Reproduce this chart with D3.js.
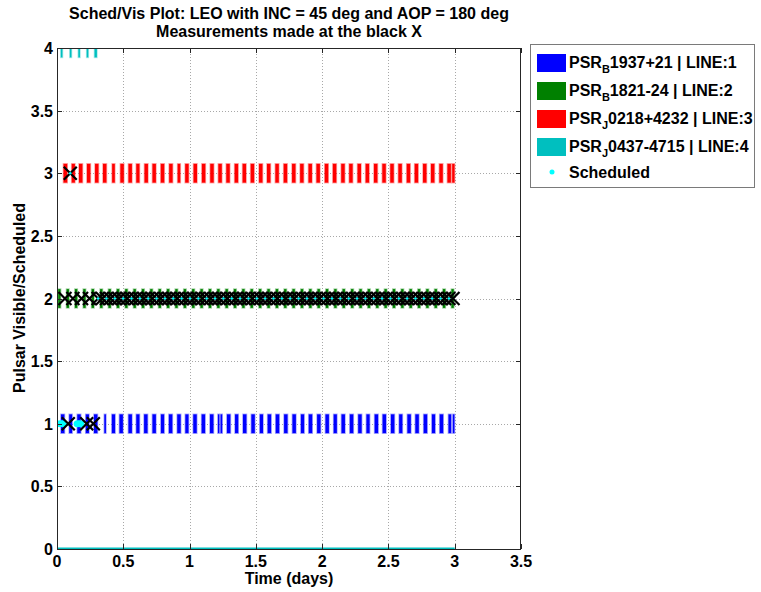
<!DOCTYPE html>
<html><head><meta charset="utf-8">
<script src="https://cdn.jsdelivr.net/npm/d3@7"></script>
<style>body{margin:0;background:#fff}svg{display:block}text{font-family:"Liberation Sans",Arial,sans-serif;font-weight:bold}</style>
</head><body><svg id="c" width="761" height="592"></svg>
<script>
// ---- data ----
const titleLines = ["Sched/Vis Plot: LEO with INC = 45 deg and AOP = 180 deg", "Measurements made at the black X"];
const xTicks = [0, 0.5, 1, 1.5, 2, 2.5, 3, 3.5];
const yTicks = [0, 0.5, 1, 1.5, 2, 2.5, 3, 3.5, 4];
const pulsarNames = [["PSR","B","1937+21 | LINE:1"],["PSR","B","1821-24 | LINE:2"],["PSR","J","0218+4232 | LINE:3"],["PSR","J","0437-4715 | LINE:4"]];
const pulsarColors = ["#0000ff", "#008000", "#ff0000", "#00bfbf"];
// visibility windows: centre time (days) and duration (days)
const line1Centers = [0.043,0.103,0.166,0.229,0.292,0.363,0.426,0.484,0.552,0.610,0.670,0.733,0.796,0.857,0.920,0.980,1.041,1.104,1.167,1.219,1.240,1.295,1.355,1.416,1.479,1.542,1.602,1.663,1.726,1.789,1.852,1.912,1.975,2.038,2.099,2.159,2.222,2.285,2.346,2.409,2.469,2.532,2.593,2.656,2.716,2.779,2.840,2.900,2.963,2.992];
const line1Durations = [0.026,0.022,0.026,0.024,0.026,0.012,0.024,0.026,0.026,0.024,0.026,0.026,0.024,0.026,0.026,0.024,0.026,0.026,0.026,0.010,0.012,0.026,0.024,0.026,0.026,0.024,0.026,0.026,0.026,0.026,0.024,0.026,0.026,0.026,0.024,0.026,0.026,0.026,0.024,0.026,0.026,0.026,0.024,0.026,0.026,0.026,0.024,0.026,0.020,0.012];
const line2Centers = [0.018,0.081,0.144,0.207,0.270,0.334,0.397,0.460,0.523,0.586,0.649,0.712,0.775,0.838,0.901,0.965,1.028,1.091,1.154,1.217,1.280,1.343,1.406,1.469,1.532,1.596,1.659,1.722,1.785,1.848,1.911,1.974,2.037,2.100,2.163,2.227,2.290,2.353,2.416,2.479,2.542,2.605,2.668,2.731,2.794,2.857,2.920,2.984];
const line2Durations = [0.018,0.018,0.018,0.018,0.018,0.018,0.018,0.018,0.018,0.018,0.018,0.018,0.018,0.018,0.018,0.018,0.018,0.018,0.018,0.018,0.018,0.018,0.018,0.018,0.018,0.018,0.018,0.018,0.018,0.018,0.018,0.018,0.018,0.018,0.018,0.018,0.018,0.018,0.018,0.018,0.018,0.018,0.018,0.018,0.018,0.018,0.018,0.018];
const line3Centers = [0.063,0.123,0.179,0.239,0.300,0.360,0.426,0.491,0.552,0.610,0.673,0.733,0.796,0.859,0.920,0.980,1.043,1.106,1.169,1.230,1.290,1.353,1.413,1.474,1.537,1.597,1.660,1.723,1.786,1.847,1.910,1.970,2.033,2.094,2.157,2.217,2.280,2.341,2.404,2.467,2.527,2.588,2.651,2.711,2.774,2.834,2.897,2.958,2.990];
const line3Durations = [0.028,0.024,0.026,0.026,0.026,0.026,0.020,0.026,0.026,0.024,0.026,0.026,0.026,0.026,0.020,0.026,0.026,0.026,0.026,0.026,0.026,0.026,0.026,0.026,0.026,0.026,0.026,0.026,0.026,0.026,0.026,0.026,0.026,0.026,0.026,0.026,0.026,0.026,0.026,0.026,0.026,0.026,0.026,0.026,0.026,0.026,0.026,0.026,0.018];
const line4Centers = [0.035,0.103,0.167,0.230,0.292];
const line4Durations = [0.012,0.012,0.012,0.012,0.018];
const line4ZeroSpan = [0, 3];
// scheduled observations (cyan dots) and measurements (black X)
const sched1 = [0.025,0.045,0.155,0.175];
const meas1 = [0.085,0.224,0.274];
const sched2 = [0.31,0.373,0.436,0.499,0.562,0.625,0.688,0.751,0.814,0.877,0.940,1.003,1.066,1.129,1.192,1.255,1.318,1.381,1.444,1.507,1.570,1.633,1.696,1.759,1.822,1.885,1.948,2.011,2.074,2.137,2.200,2.263,2.326,2.389,2.452,2.515,2.578,2.641,2.704,2.767,2.830,2.893,2.956];
const meas2 = [0.060,0.120,0.185,0.245,0.310,0.341,0.373,0.404,0.436,0.467,0.499,0.530,0.562,0.593,0.625,0.656,0.688,0.719,0.751,0.782,0.814,0.845,0.877,0.908,0.940,0.971,1.003,1.034,1.066,1.097,1.129,1.160,1.192,1.223,1.255,1.286,1.318,1.349,1.381,1.412,1.444,1.475,1.507,1.538,1.570,1.601,1.633,1.664,1.696,1.727,1.759,1.790,1.822,1.853,1.885,1.916,1.948,1.979,2.011,2.042,2.074,2.105,2.137,2.168,2.200,2.231,2.263,2.294,2.326,2.357,2.389,2.420,2.452,2.483,2.515,2.546,2.578,2.609,2.641,2.672,2.704,2.735,2.767,2.798,2.830,2.861,2.893,2.924,2.956,2.987];
const sched3 = [0.100];
const meas3 = [0.100];

// ---- drawing ----
const svg = d3.select("#c");
const x = d3.scaleLinear().domain([0, 3.5]).range([57, 521]);
const y = d3.scaleLinear().domain([0, 4]).range([549, 48]);
const barHalf = 0.075;
const FS = 16;

svg.append("defs").append("clipPath").attr("id","clip").append("rect")
  .attr("x", 57).attr("y", 48).attr("width", 521-57).attr("height", 549-48);

// grid
const grid = svg.append("g").attr("stroke", "#a8a8a8").attr("stroke-width", 1).attr("stroke-dasharray", "1,2");
grid.selectAll(".gx").data(xTicks.slice(1, -1)).join("line")
  .attr("x1", d => Math.round(x(d)) + 0.5).attr("x2", d => Math.round(x(d)) + 0.5)
  .attr("y1", y(4)).attr("y2", y(0));
grid.selectAll(".gy").data(yTicks.slice(1, -1)).join("line")
  .attr("y1", d => Math.round(y(d)) + 0.5).attr("y2", d => Math.round(y(d)) + 0.5)
  .attr("x1", x(0)).attr("x2", x(3.5));

const plot = svg.append("g").attr("clip-path", "url(#clip)");

// zero-level line of the last series
plot.append("line").attr("x1", x(line4ZeroSpan[0])).attr("x2", x(line4ZeroSpan[1]))
  .attr("y1", y(0)).attr("y2", y(0)).attr("stroke", pulsarColors[3]).attr("stroke-width", 3);

function bars(centers, durations, level, color) {
  const g = plot.append("g");
  g.selectAll("rect").data(centers).join("rect")
    .attr("x", (d, i) => x(d - durations[i] / 2))
    .attr("width", (d, i) => Math.max(1, x(d + durations[i] / 2) - x(d - durations[i] / 2)))
    .attr("y", y(level + barHalf))
    .attr("height", y(level - barHalf) - y(level + barHalf))
    .attr("fill", color)
    .attr("stroke", color).attr("stroke-opacity", 0.35).attr("stroke-width", 1.6);
}
bars(line1Centers, line1Durations, 1, pulsarColors[0]);
bars(line2Centers, line2Durations, 2, pulsarColors[1]);
bars(line3Centers, line3Durations, 3, pulsarColors[2]);
bars(line4Centers, line4Durations, 4, pulsarColors[3]);

function crosses(times, level) {
  const s = 6.5;
  plot.append("g").selectAll("path").data(times).join("path")
    .attr("d", d => { const cx = x(d), cy = y(level);
      return `M${cx - s},${cy - s}L${cx + s},${cy + s}M${cx - s},${cy + s}L${cx + s},${cy - s}`; })
    .attr("stroke", "#000").attr("stroke-width", 2.2).attr("fill", "none");
}
function dots(times, level, rx, ry) {
  plot.append("g").selectAll("ellipse").data(times).join("ellipse")
    .attr("cx", d => x(d)).attr("cy", y(level)).attr("rx", rx).attr("ry", ry)
    .attr("fill", "#00ffff");
}
dots(sched1, 1, 4, 3.5);
crosses(meas1, 1);
crosses(meas2, 2);
dots(sched2, 2, 1.3, 1.3);
crosses(meas3, 3);
dots(sched3, 3, 1.3, 1.3);

// axes box
svg.append("rect").attr("x", 57.5).attr("y", 48.5).attr("width", 521-57-1).attr("height", 549-48)
  .attr("fill", "none").attr("stroke", "#262626").attr("stroke-width", 1);
const tk = svg.append("g").attr("stroke", "#262626");
xTicks.forEach(t => {
  const px = Math.round(x(t)) + 0.5;
  tk.append("line").attr("x1", px).attr("x2", px).attr("y1", 549).attr("y2", 544);
  tk.append("line").attr("x1", px).attr("x2", px).attr("y1", 48).attr("y2", 53);
});
yTicks.forEach(t => {
  const py = Math.round(y(t)) + 0.5;
  tk.append("line").attr("x1", 57).attr("x2", 62).attr("y1", py).attr("y2", py);
  tk.append("line").attr("x1", 521).attr("x2", 516).attr("y1", py).attr("y2", py);
});

// tick labels
svg.append("g").selectAll("text").data(xTicks).join("text")
  .attr("x", d => x(d)).attr("y", 567).attr("text-anchor", "middle")
  .attr("font-size", FS).text(d => d);
svg.append("g").selectAll("text").data(yTicks).join("text")
  .attr("x", 53).attr("y", d => y(d) + 6).attr("text-anchor", "end")
  .attr("font-size", FS).text(d => d);

// axis titles
svg.append("text").attr("x", 289).attr("y", 584).attr("text-anchor", "middle").attr("font-size", FS).text("Time (days)");
svg.append("text").attr("transform", "translate(25,298) rotate(-90)").attr("text-anchor", "middle")
  .attr("font-size", FS).text("Pulsar Visible/Scheduled");

// title
svg.selectAll(".title").data(titleLines).join("text")
  .attr("x", 289).attr("y", (d, i) => 19 + i * 18).attr("text-anchor", "middle")
  .attr("font-size", FS).text(d => d);

// legend
const lg = svg.append("g");
lg.append("rect").attr("x", 530.5).attr("y", 44.5).attr("width", 224).attr("height", 143)
  .attr("fill", "#fff").attr("stroke", "#7a7a7a");
pulsarNames.forEach((n, i) => {
  const cy = 63 + i * 28;
  lg.append("rect").attr("x", 537).attr("y", cy - 9).attr("width", 29).attr("height", 18).attr("fill", pulsarColors[i]);
  const t = lg.append("text").attr("x", 569).attr("y", cy + 5).attr("font-size", FS);
  t.append("tspan").text(n[0]);
  t.append("tspan").attr("dy", 5).attr("font-size", 11).text(n[1]);
  t.append("tspan").attr("dy", -5).text(n[2]);
});
lg.append("circle").attr("cx", 552).attr("cy", 172).attr("r", 2.5).attr("fill", "#00ffff");
lg.append("text").attr("x", 569).attr("y", 178).attr("font-size", FS).text("Scheduled");
</script></body></html>
